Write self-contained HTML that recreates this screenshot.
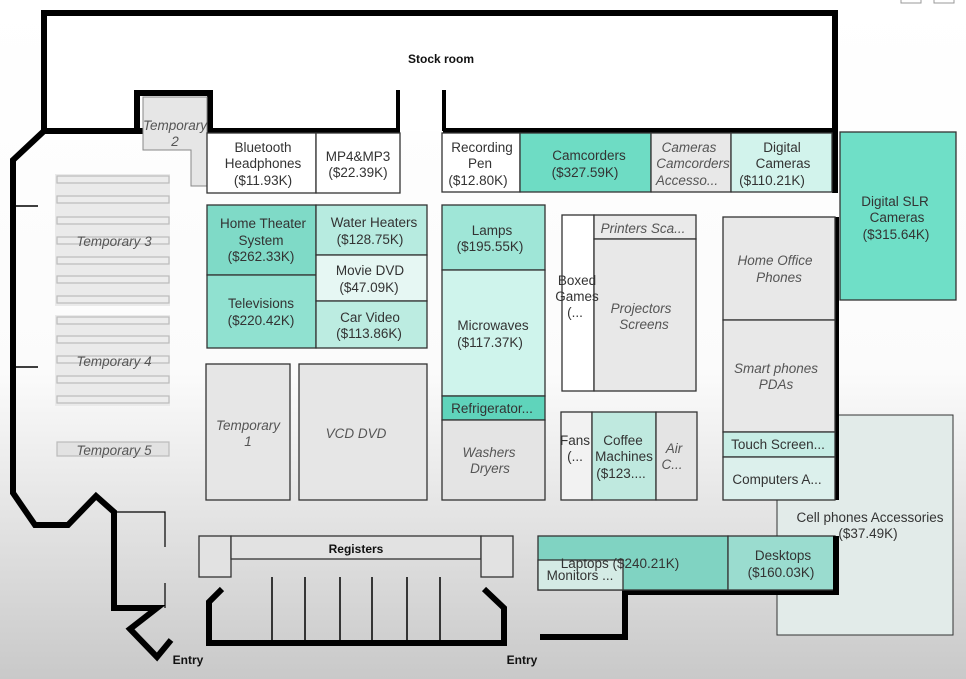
<!DOCTYPE html>
<html><head><meta charset="utf-8"><style>
html,body{margin:0;padding:0;width:966px;height:679px;overflow:hidden}
svg{display:block}
text{font-family:"Liberation Sans",sans-serif;font-size:13.5px;fill:#333;text-anchor:middle}
.i{font-style:italic;fill:#555}
.b{font-weight:bold;fill:#111;font-size:12px}
</style></head><body>
<svg width="966" height="679" viewBox="0 0 966 679" xmlns="http://www.w3.org/2000/svg">
<defs><linearGradient id="bg" x1="0" y1="0" x2="0" y2="1">
<stop offset="0" stop-color="#fff"/><stop offset="0.55" stop-color="#fbfbfb"/><stop offset="1" stop-color="#c9c9c9"/></linearGradient></defs>
<rect width="966" height="679" fill="url(#bg)"/>
<rect x="901" y="-3" width="20" height="6" fill="#fff" stroke="#999"/>
<rect x="934" y="-3" width="20" height="6" fill="#fff" stroke="#999"/>

<!-- cell phones behind -->
<rect x="777" y="415" width="176" height="220" fill="#e2ebe9" stroke="#333" stroke-width="1"/>

<!-- stock room -->
<rect x="44" y="13" width="791" height="118" fill="#fff"/>
<g fill="none" stroke="#000" stroke-width="6">
<polyline points="44,131 44,13 835,13 835,193"/>
<line x1="44" y1="131" x2="400" y2="131"/>
<line x1="443" y1="131" x2="835" y2="131"/>
<polyline points="137,131 137,93 210,93 210,131"/>
<polyline points="44,131 13,160 13,493 35,525 68,525 96,496 114,512 114,608 157,608 130,629 157,657 171,640"/>
<line x1="836" y1="217" x2="836" y2="500"/>
<polyline points="540,637 625,637 625,592 836,592 836,536"/>
<polyline points="222,589 209,602 209,643 504,643 504,608 484,589"/>
</g>
<g stroke="#000" stroke-width="4"><line x1="398" y1="90" x2="398" y2="131"/><line x1="444" y1="90" x2="444" y2="131"/></g>
<text x="441" y="63" class="b">Stock room</text>
<g stroke="#000" stroke-width="1.5"><line x1="13" y1="206" x2="38" y2="206"/><line x1="13" y1="367" x2="38" y2="367"/></g>

<!-- temporary 2 -->
<path d="M143,97 H207 V186 H191 V150 H143 Z" fill="#e6e6e6" stroke="#888" stroke-width="1"/>
<text x="175" y="130" class="i">Temporary</text><text x="175" y="146" class="i">2</text>

<!-- shelves -->
<rect x="55" y="174" width="115" height="132" fill="#eaeaea"/>
<rect x="55" y="315" width="115" height="91" fill="#eaeaea"/>
<g fill="#ececec" stroke="#bbb" stroke-width="1.2">
<rect x="57" y="176" width="112" height="7"/><rect x="57" y="196" width="112" height="7"/><rect x="57" y="217" width="112" height="7"/><rect x="57" y="237" width="112" height="7"/><rect x="57" y="257" width="112" height="7"/><rect x="57" y="276" width="112" height="7"/><rect x="57" y="296" width="112" height="7"/>
<rect x="57" y="317" width="112" height="7"/><rect x="57" y="336" width="112" height="7"/><rect x="57" y="356" width="112" height="7"/><rect x="57" y="376" width="112" height="7"/><rect x="57" y="396" width="112" height="7"/>
<rect x="57" y="442" width="112" height="14" fill="#e2e2e2"/>
</g>
<text x="114" y="246" class="i">Temporary 3</text>
<text x="114" y="366" class="i">Temporary 4</text>
<text x="114" y="455" class="i">Temporary 5</text>

<!-- entry box -->
<polyline points="114,512 165,512 165,547" fill="none" stroke="#000" stroke-width="1.2"/>
<polyline points="165,583 165,608" fill="none" stroke="#000" stroke-width="1.2"/>

<g stroke="#333" stroke-width="1.3">
<rect x="207" y="133" width="109" height="60" fill="#fff"/>
<rect x="316" y="133" width="84" height="60" fill="#fff"/>
<rect x="207" y="205" width="109" height="70" fill="#7fdac7"/>
<rect x="207" y="275" width="109" height="73" fill="#90e1d0"/>
<rect x="316" y="205" width="111" height="50" fill="#b7ebe0"/>
<rect x="316" y="255" width="111" height="46" fill="#e6f7f3"/>
<rect x="316" y="301" width="111" height="47" fill="#bcece1"/>
<rect x="206" y="364" width="84" height="136" fill="#e6e6e6"/>
<rect x="299" y="364" width="128" height="136" fill="#e6e6e6"/>

<rect x="442" y="133" width="78" height="59" fill="#fff"/>
<rect x="520" y="133" width="131" height="59" fill="#6edcc4"/>
<rect x="651" y="133" width="80" height="59" fill="#e8e8e8"/>
<rect x="731" y="133" width="101" height="59" fill="#d2f3ec"/>
<rect x="840" y="132" width="116" height="168" fill="#6fdfc7"/>

<rect x="442" y="205" width="103" height="65" fill="#9fe6d7"/>
<rect x="442" y="270" width="103" height="126" fill="#cff4ec"/>
<rect x="442" y="396" width="103" height="24" fill="#5fd4bb"/>
<rect x="442" y="420" width="103" height="80" fill="#e4e4e4"/>

<rect x="562" y="215" width="32" height="176" fill="#fff"/>
<rect x="594" y="215" width="102" height="24" fill="#eaeaea"/>
<rect x="594" y="239" width="102" height="152" fill="#e8e8e8"/>
<rect x="561" y="412" width="31" height="88" fill="#f2f2f2"/>
<rect x="592" y="412" width="64" height="88" fill="#bfe9df"/>
<rect x="656" y="412" width="41" height="88" fill="#e4e4e4"/>

<rect x="723" y="217" width="112" height="103" fill="#e8e8e8"/>
<rect x="723" y="320" width="112" height="112" fill="#e8e8e8"/>
<rect x="723" y="432" width="112" height="25" fill="#c7ede5"/>
<rect x="723" y="457" width="112" height="43" fill="#dcf0ec"/>

<rect x="538" y="536" width="190" height="54" fill="#80d3c2"/>
<rect x="538" y="560" width="85" height="30" fill="#d4ebe5"/>
<rect x="728" y="536" width="107" height="54" fill="#9adccf"/>

<rect x="199" y="536" width="32" height="41" fill="#e2e2e2"/>
<rect x="231" y="536" width="250" height="23" fill="#e2e2e2"/>
<rect x="481" y="536" width="32" height="41" fill="#e2e2e2"/>
</g>
<g stroke="#000" stroke-width="1.5">
<line x1="272" y1="577" x2="272" y2="643"/><line x1="305" y1="577" x2="305" y2="643"/><line x1="340" y1="577" x2="340" y2="643"/><line x1="372" y1="577" x2="372" y2="643"/><line x1="407" y1="577" x2="407" y2="643"/><line x1="440" y1="577" x2="440" y2="643"/>
</g>
<g stroke="#000" stroke-width="6"><line x1="836" y1="536" x2="836" y2="595"/></g>
<text x="356" y="553" class="b">Registers</text>
<text x="188" y="664" class="b">Entry</text>
<text x="522" y="664" class="b">Entry</text>

<text x="263" y="152">Bluetooth</text><text x="263" y="168">Headphones</text><text x="263" y="185">($11.93K)</text>
<text x="358" y="161">MP4&amp;MP3</text><text x="358" y="177">($22.39K)</text>
<text x="263" y="228">Home Theater</text><text x="261" y="245">System</text><text x="261" y="261">($262.33K)</text>
<text x="261" y="308">Televisions</text><text x="261" y="325">($220.42K)</text>
<text x="374" y="227">Water Heaters</text><text x="370" y="244">($128.75K)</text>
<text x="370" y="275">Movie DVD</text><text x="369" y="292">($47.09K)</text>
<text x="370" y="322">Car Video</text><text x="369" y="338">($113.86K)</text>
<text x="248" y="430" class="i">Temporary</text><text x="248" y="446" class="i">1</text>
<text x="356" y="438" class="i">VCD DVD</text>

<text x="482" y="152">Recording</text><text x="480" y="168">Pen</text><text x="478" y="185">($12.80K)</text>
<text x="589" y="160">Camcorders</text><text x="585" y="177">($327.59K)</text>
<text x="689" y="152" class="i">Cameras</text><text x="693" y="168" class="i">Camcorders</text><text x="687" y="185" class="i">Accesso...</text>
<text x="782" y="152">Digital</text><text x="783" y="168">Cameras</text><text x="772" y="185">($110.21K)</text>
<text x="895" y="206">Digital SLR</text><text x="897" y="222">Cameras</text><text x="896" y="239">($315.64K)</text>

<text x="492" y="235">Lamps</text><text x="490" y="251">($195.55K)</text>
<text x="493" y="330">Microwaves</text><text x="490" y="347">($117.37K)</text>
<text x="492" y="413">Refrigerator...</text>
<text x="489" y="457" class="i">Washers</text><text x="490" y="473" class="i">Dryers</text>

<text x="577" y="285">Boxed</text><text x="577" y="301">Games</text><text x="575" y="317">(...</text>
<text x="643" y="233" class="i">Printers Sca...</text>
<text x="641" y="313" class="i">Projectors</text><text x="644" y="329" class="i">Screens</text>
<text x="575" y="445">Fans</text><text x="575" y="461">(...</text>
<text x="623" y="445">Coffee</text><text x="624" y="461">Machines</text><text x="621" y="478">($123....</text>
<text x="674" y="453" class="i">Air</text><text x="672" y="469" class="i">C...</text>

<text x="775" y="265" class="i">Home Office</text><text x="779" y="282" class="i">Phones</text>
<text x="776" y="373" class="i">Smart phones</text><text x="776" y="389" class="i">PDAs</text>
<text x="778" y="449">Touch Screen...</text>
<text x="777" y="484">Computers A...</text>
<text x="870" y="522">Cell phones Accessories</text><text x="868" y="538">($37.49K)</text>
<text x="620" y="568">Laptops ($240.21K)</text>
<text x="580" y="580">Monitors ...</text>
<text x="783" y="560">Desktops</text><text x="781" y="577">($160.03K)</text>
</svg>
</body></html>
